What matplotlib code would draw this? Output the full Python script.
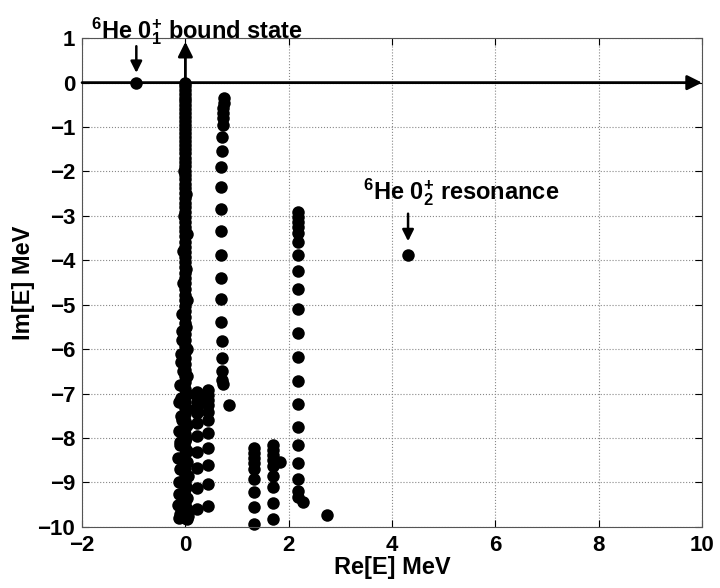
import matplotlib
matplotlib.use('Agg')
import matplotlib.pyplot as plt

plt.rcParams['font.family'] = ['Liberation Sans', 'DejaVu Sans']
plt.rcParams['font.weight'] = 'bold'
plt.rcParams['mathtext.fontset'] = 'custom'
plt.rcParams['mathtext.rm'] = 'Liberation Sans:bold'
plt.rcParams['mathtext.it'] = 'Liberation Sans:bold'
plt.rcParams['mathtext.bf'] = 'Liberation Sans:bold'

# 数据: 复能量平面上的本征值 (Re[E], Im[E])
bound_x = [-0.95]
bound_y = [0.0]
res_x = [4.31]
res_y = [-3.88]

# x≈0 的连续谱 (密集)
cont0_y = [0.0, -0.08, -0.17, -0.25, -0.34, -0.42, -0.51, -0.6, -0.68, -0.77,
           -0.86, -0.95, -1.04, -1.13, -1.22, -1.31, -1.4, -1.5, -1.59, -1.69,
           -1.78, -1.88, -1.98, -2.08, -2.18, -2.28, -2.38, -2.49, -2.59, -2.7,
           -2.8, -2.91, -3.02, -3.13, -3.24, -3.35, -3.46, -3.58, -3.69, -3.81,
           -3.92, -4.04, -4.16, -4.28, -4.4, -4.52, -4.64, -4.77, -4.89, -5.02,
           -5.14, -5.27, -5.4, -5.53, -5.66, -5.79, -5.93, -6.06, -6.2, -6.34,
           -6.47, -6.61, -6.75, -6.9, -7.04, -7.18, -7.33, -7.47, -7.62, -7.77,
           -7.92, -8.07, -8.22, -8.37, -8.52, -8.68, -8.83, -8.99, -9.15, -9.31,
           -9.47, -9.63, -9.8]
cont0_x = [0.0] * len(cont0_y)
side_x = [-0.02, 0.02, -0.03, 0.03, -0.04, 0.02, -0.05, 0.03, -0.06, 0.02,
          -0.07, 0.03, -0.08, 0.03, -0.1, 0.04, -0.12, 0.03, -0.09, 0.04,
          -0.13, 0.02, -0.11, 0.04, -0.14, 0.03, -0.1, 0.05, -0.13, 0.02,
          -0.12, 0.04, -0.14, 0.03, -0.11, 0.05, -0.13, 0.04, -0.06, -0.08,
          -0.05, -0.09, -0.07, -0.1]
side_y = [-2.0, -2.5, -3.0, -3.4, -3.8, -4.2, -4.5, -4.9, -5.2, -5.5,
          -5.8, -6.0, -6.3, -6.6, -6.8, -7.0, -7.2, -7.35, -7.5, -7.7,
          -7.85, -8.0, -8.15, -8.3, -8.45, -8.55, -8.7, -8.85, -9.0, -9.1,
          -9.25, -9.35, -9.5, -9.6, -9.7, -9.75, -9.8, -9.82, -5.6, -6.1,
          -6.5, -7.1, -7.6, -8.1]

# 其他连续谱分支
cut1_x = [0.74, 0.74, 0.73, 0.73, 0.72, 0.72, 0.71, 0.70, 0.69, 0.68,
          0.68, 0.68, 0.68, 0.68, 0.69, 0.69, 0.70, 0.70, 0.71, 0.71, 0.72, 0.84]
cut1_y = [-0.34, -0.45, -0.56, -0.68, -0.79, -0.95, -1.22, -1.53, -1.91, -2.36,
          -2.84, -3.33, -3.87, -4.40, -4.88, -5.38, -5.81, -6.19, -6.49, -6.69,
          -6.78, -7.25]
cut2a_x = [0.23] * 11
cut2a_y = [-6.96, -7.07, -7.18, -7.30, -7.43, -7.66, -7.95, -8.31, -8.67, -9.12, -9.59]
cut2b_x = [0.43] * 11
cut2b_y = [-6.91, -7.03, -7.14, -7.25, -7.41, -7.59, -7.88, -8.22, -8.60, -9.03, -9.53]
cut3_x = [1.32] * 9
cut3_y = [-8.22, -8.33, -8.45, -8.56, -8.69, -8.92, -9.21, -9.55, -9.93]
cut4_x = [1.69] * 9 + [1.84]
cut4_y = [-8.15, -8.27, -8.38, -8.49, -8.63, -8.85, -9.10, -9.46, -9.82, -8.54]
cut5_x = [2.17] * 20 + [2.27]
cut5_y = [-2.91, -3.02, -3.13, -3.24, -3.38, -3.58, -3.87, -4.23, -4.64, -5.09,
          -5.63, -6.17, -6.71, -7.23, -7.75, -8.15, -8.56, -8.92, -9.19, -9.32,
          -9.44]
extra_x = [2.74]
extra_y = [-9.73]

xticks = [-2, 0, 2, 4, 6, 8, 10]
yticks = [1, 0, -1, -2, -3, -4, -5, -6, -7, -8, -9, -10]

fig = plt.figure(figsize=(7.2, 5.88), dpi=100)
ax = fig.add_axes([0.114, 0.104, 0.861, 0.831])

# 坐标轴箭头
ax.annotate('', xy=(10, 0), xytext=(-2, 0),
            arrowprops=dict(arrowstyle='-|>', color='k', lw=2, mutation_scale=22,
                            shrinkA=0, shrinkB=0), annotation_clip=False)
ax.annotate('', xy=(0, 0.92), xytext=(0, 0),
            arrowprops=dict(arrowstyle='-|>', color='k', lw=2, mutation_scale=22,
                            shrinkA=0, shrinkB=0))

ms = 9
for xs, ys in [(cont0_x, cont0_y), (side_x, side_y), (cut1_x, cut1_y),
               (cut2a_x, cut2a_y), (cut2b_x, cut2b_y), (cut3_x, cut3_y),
               (cut4_x, cut4_y), (cut5_x, cut5_y), (extra_x, extra_y),
               (bound_x, bound_y), (res_x, res_y)]:
    ax.plot(xs, ys, 'o', color='k', markersize=ms, markeredgewidth=0, clip_on=False)

# 标注箭头
ax.annotate('', xy=(-0.95, 0.22), xytext=(-0.95, 0.82),
            arrowprops=dict(arrowstyle='-|>', color='k', lw=1.8, mutation_scale=17,
                            shrinkA=0, shrinkB=0))
ax.annotate('', xy=(4.31, -3.57), xytext=(4.31, -2.95),
            arrowprops=dict(arrowstyle='-|>', color='k', lw=1.8, mutation_scale=17,
                            shrinkA=0, shrinkB=0))

ax.text(-1.82, 1.0, r'$^{6}$He 0$^{+}_{1}$ bound state', fontsize=17,
        fontweight='bold', va='baseline', ha='left')
ax.text(3.44, -2.62, r'$^{6}$He 0$^{+}_{2}$ resonance', fontsize=17,
        fontweight='bold', va='baseline', ha='left')

ax.set_xlim(-2, 10)
ax.set_ylim(-10, 1)
ax.set_xticks(xticks)
ax.set_yticks(yticks)
ax.set_xticklabels([str(t).replace('-', '\u2212') for t in xticks])
ax.set_yticklabels([str(t).replace('-', '\u2212') for t in yticks])
ax.tick_params(direction='in', top=True, right=True, labelsize=16, length=5, width=0.8)
ax.tick_params(axis='x', pad=6)
ax.tick_params(axis='y', pad=5)
for lab in ax.get_xticklabels() + ax.get_yticklabels():
    lab.set_fontweight('bold')
ax.grid(True, linestyle=':', color='#888888', linewidth=0.8)
for sp in ax.spines.values():
    sp.set_color('#555555')
    sp.set_linewidth(0.8)

ax.set_xlabel('Re[E] MeV', fontsize=17, fontweight='bold', labelpad=0)
ax.set_ylabel('Im[E] MeV', fontsize=17, fontweight='bold', labelpad=2)

plt.savefig('out.png', dpi=100)
